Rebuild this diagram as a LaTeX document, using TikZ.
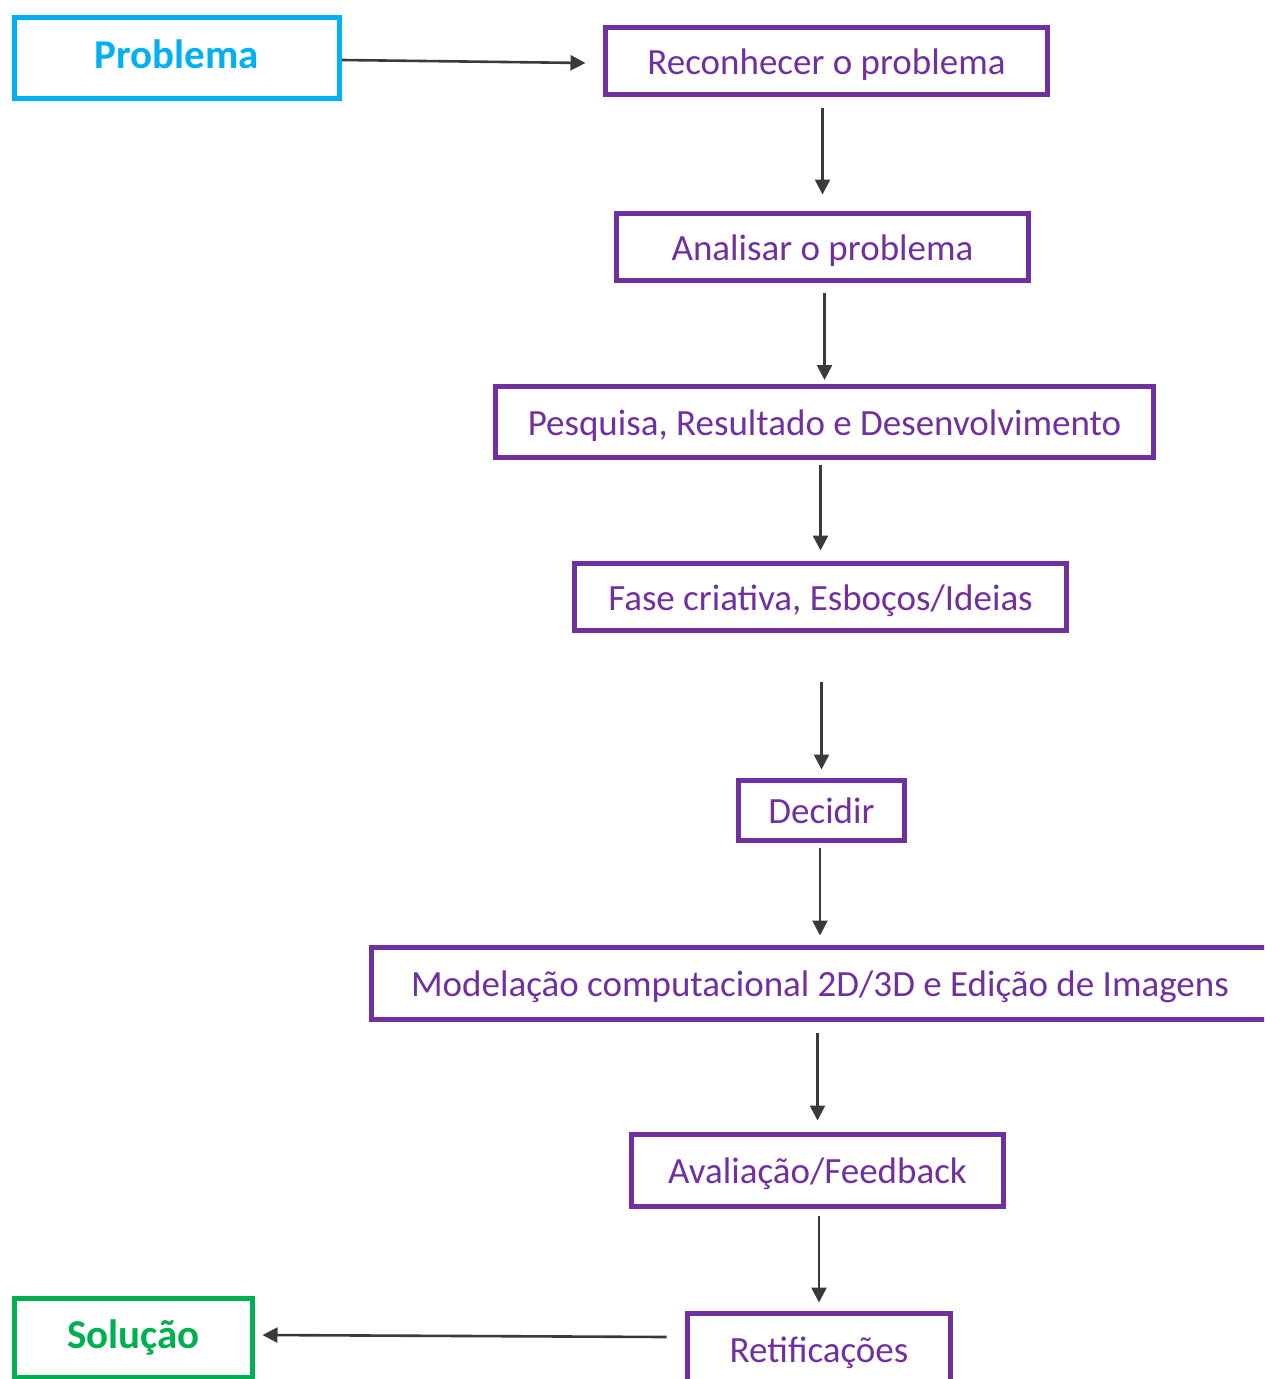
\documentclass[tikz,border=0pt]{standalone}
\usepackage{fontspec}
\setmainfont{Carlito}
\usetikzlibrary{arrows.meta}
\definecolor{roxo}{HTML}{7030A0}
\definecolor{azul}{HTML}{00B0F0}
\definecolor{verde}{HTML}{00B050}
\definecolor{cinza}{HTML}{3A3A3A}
\tikzset{
  etapa/.style={draw=roxo, line width=5pt, text=roxo, inner sep=0pt,
    font=\fontsize{37}{44}\selectfont, text height=26.5pt, text depth=0pt},
  extremo/.style={line width=5pt, inner sep=0pt,
    font=\bfseries\fontsize{41}{49}\selectfont, text height=21pt, text depth=0pt},
  seta/.style={draw=cinza, line width=2.6pt, -{Triangle[length=15pt,width=15pt]}}
}
\begin{document}
\begin{tikzpicture}[x=1pt, y=-1pt]
    \useasboundingbox (0,0) rectangle (1264,1379);
    \clip (0,0) rectangle (1264,1379);
    % caixas
    \node[extremo, draw=azul, text=azul, minimum width=325pt, minimum height=81pt] (prob) at (177,58) {Problema};
    \node[etapa, minimum width=442pt, minimum height=67pt] (rec) at (826.5,61) {Reconhecer o problema};
    \node[etapa, minimum width=412pt, minimum height=67pt] (ana) at (822.5,247) {Analisar o problema};
    \node[etapa, minimum width=658pt, minimum height=71pt] (pes) at (824.5,422) {Pesquisa, Resultado e Desenvolvimento};
    \node[etapa, minimum width=492pt, minimum height=67pt] (fase) at (820.5,597) {Fase criativa, Esboços/Ideias};
    \node[etapa, minimum width=166pt, minimum height=60pt] (dec) at (821.5,810.5) {Decidir};
    \node[etapa, minimum width=897pt, minimum height=72pt] (mod) at (820,983.5) {Modelação computacional 2D/3D e Edição de Imagens};
    \node[etapa, minimum width=372pt, minimum height=72pt] (ava) at (817.5,1170.5) {Avaliação/Feedback};
    \node[etapa, minimum width=263pt, minimum height=71pt] (ret) at (819,1349) {Retificações};
    \node[extremo, draw=verde, text=verde, minimum width=238pt, minimum height=79pt] (sol) at (133.5,1338) {Solução};
    % setas
    \draw[seta] ([yshift=-2pt]prob.east) -- ([xshift=-17.5pt, yshift=-2pt]rec.west);
    \draw[seta, shorten <=10.5pt, shorten >=16.5pt] (rec.south -| ana.north) -- (ana.north);
    \draw[seta, shorten <=9.5pt, shorten >=4pt] (ana.south -| pes.north) -- (pes.north);
    \draw[seta, shorten <=4.5pt, shorten >=10.5pt] (pes.south -| fase.north) -- (fase.north);
    \draw[seta, shorten <=48.5pt, shorten >=8.5pt] (fase.south -| dec.north) -- (dec.north);
    \draw[seta, shorten <=4.5pt, shorten >=9.5pt] (dec.south -| mod.north) -- (mod.north);
    \draw[seta, shorten <=10.5pt, shorten >=11.5pt] (mod.south -| ava.north) -- (ava.north);
    \draw[seta, shorten <=6.5pt, shorten >=8.5pt] (ava.south -| ret.north) -- (ret.north);
    \draw[seta] ([xshift=-18.5pt, yshift=12pt]ret.west) -- ([xshift=7.5pt, yshift=3pt]sol.east);
\end{tikzpicture}
\end{document}
